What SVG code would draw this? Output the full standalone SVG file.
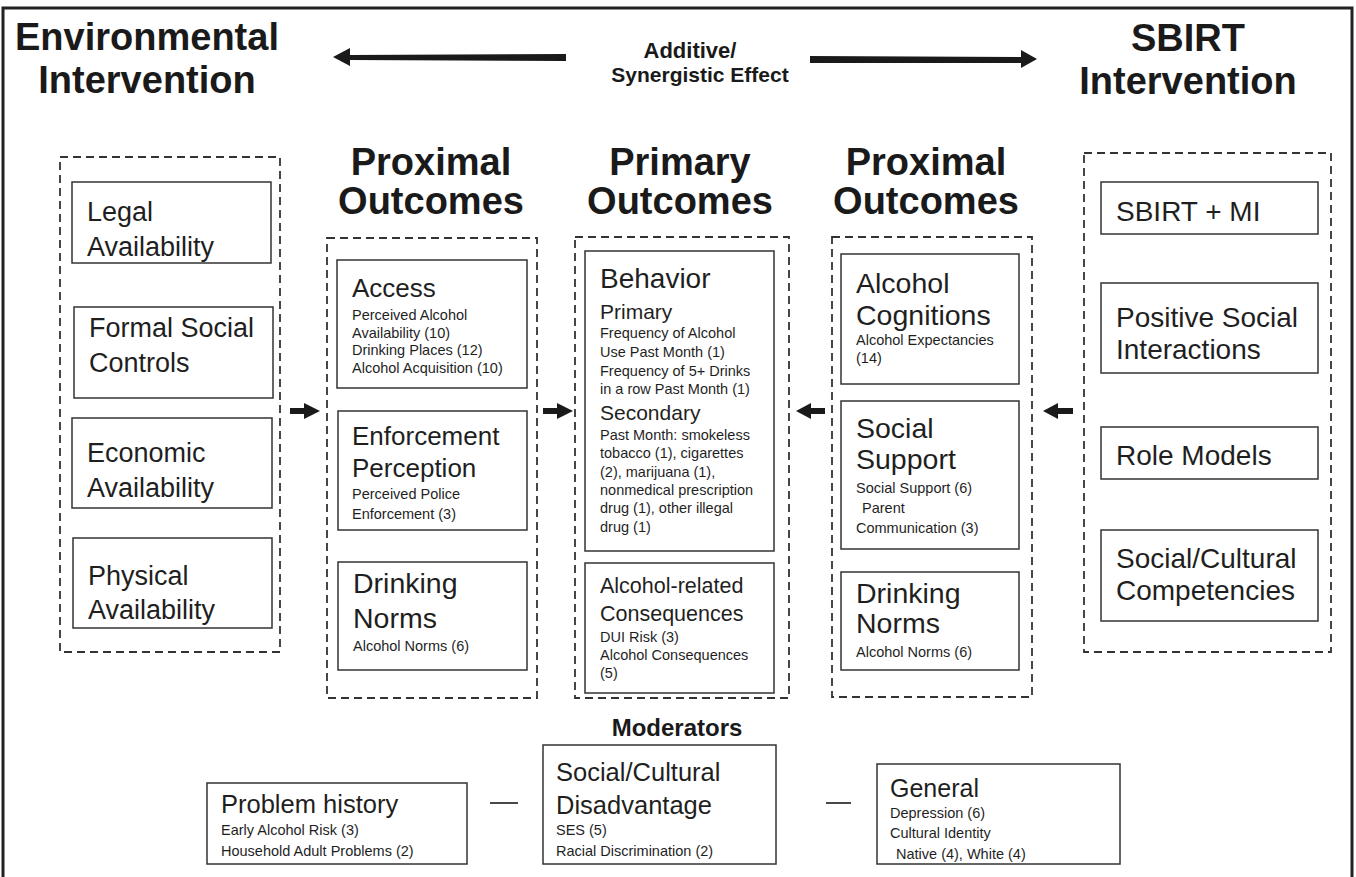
<svg xmlns="http://www.w3.org/2000/svg" width="1356" height="877" viewBox="0 0 1356 877">
<style>
.h{font-family:"Liberation Sans",Arial,sans-serif;font-weight:bold;fill:#1a1a1a}
.t{font-family:"Liberation Sans",Arial,sans-serif;fill:#1f1f1f}
.big{font-size:26px}
.env{font-size:27px}
.sb{font-size:28px}
.s{font-size:14.5px}
.mid{font-size:21px}
.box{fill:#fff;stroke:#333;stroke-width:1.5}
.dash{fill:none;stroke:#333;stroke-width:1.8;stroke-dasharray:8 5}
.arr{fill:#1a1a1a}
.ln{stroke:#1a1a1a;stroke-width:1.6}
</style>
<rect width="1356" height="877" fill="#fff"/>
<path d="M3,877 V8 H1352 V877" fill="none" stroke="#222" stroke-width="3"/>

<g id="titles">
<text class="h" font-size="38" x="147" y="50" text-anchor="middle">Environmental</text>
<text class="h" font-size="38" x="147" y="93" text-anchor="middle">Intervention</text>
<text class="h" font-size="38" x="1188" y="51" text-anchor="middle">SBIRT</text>
<text class="h" font-size="38" x="1188" y="94" text-anchor="middle">Intervention</text>
<text class="h" font-size="22" x="690" y="58" text-anchor="middle">Additive/</text>
<text class="h" font-size="21" x="700" y="82" text-anchor="middle">Synergistic Effect</text>
<text class="h" font-size="38" x="431" y="175" text-anchor="middle">Proximal</text>
<text class="h" font-size="38" x="431" y="214" text-anchor="middle">Outcomes</text>
<text class="h" font-size="38" x="680" y="175" text-anchor="middle">Primary</text>
<text class="h" font-size="38" x="680" y="214" text-anchor="middle">Outcomes</text>
<text class="h" font-size="38" x="926" y="175" text-anchor="middle">Proximal</text>
<text class="h" font-size="38" x="926" y="214" text-anchor="middle">Outcomes</text>
<text class="h" font-size="24" x="677" y="736" text-anchor="middle">Moderators</text>
</g>

<g id="groups">
<rect class="dash" x="60" y="157" width="220" height="495"/>
<rect class="dash" x="327" y="238" width="210" height="460"/>
<rect class="dash" x="575" y="237" width="214" height="461"/>
<rect class="dash" x="832" y="237" width="200" height="460"/>
<rect class="dash" x="1084" y="153" width="247" height="499"/>
</g>

<g id="legal"><rect class="box" x="72" y="182" width="199" height="81"/>
<text class="t env" x="87" y="221">Legal</text><text class="t env" x="87" y="256">Availability</text></g>
<g id="formal"><rect class="box" x="74" y="307" width="199" height="91"/>
<text class="t env" x="89" y="337">Formal Social</text><text class="t env" x="89" y="372">Controls</text></g>
<g id="economic"><rect class="box" x="72" y="418" width="200" height="90"/>
<text class="t env" x="87" y="462">Economic</text><text class="t env" x="87" y="497">Availability</text></g>
<g id="physical"><rect class="box" x="73" y="538" width="199" height="90"/>
<text class="t env" x="88" y="585">Physical</text><text class="t env" x="88" y="619">Availability</text></g>

<g id="access"><rect class="box" x="337" y="260" width="190" height="128"/>
<text class="t big" x="352" y="297">Access</text>
<text class="t s" x="352" y="320">Perceived Alcohol</text>
<text class="t s" x="352" y="338">Availability (10)</text>
<text class="t s" x="352" y="355">Drinking Places (12)</text>
<text class="t s" x="352" y="373">Alcohol Acquisition (10)</text></g>
<g id="enforcement"><rect class="box" x="338" y="411" width="189" height="119"/>
<text class="t big" x="352" y="445">Enforcement</text>
<text class="t big" x="352" y="477">Perception</text>
<text class="t s" x="352" y="499">Perceived Police</text>
<text class="t s" x="352" y="519">Enforcement (3)</text></g>
<g id="norms-left"><rect class="box" x="338" y="562" width="189" height="108"/>
<text class="t" font-size="28.5" x="353" y="593">Drinking</text>
<text class="t" font-size="28.5" x="353" y="628">Norms</text>
<text class="t s" x="353" y="651">Alcohol Norms (6)</text></g>

<g id="behavior"><rect class="box" x="585" y="251" width="189" height="300"/>
<text class="t" font-size="28" x="600" y="288">Behavior</text>
<text class="t mid" x="600" y="319">Primary</text>
<text class="t s" x="600" y="338">Frequency of Alcohol</text>
<text class="t s" x="600" y="357">Use Past Month (1)</text>
<text class="t s" x="600" y="376">Frequency of 5+ Drinks</text>
<text class="t s" x="600" y="394">in a row Past Month (1)</text>
<text class="t mid" x="600" y="420">Secondary</text>
<text class="t s" x="600" y="440">Past Month: smokeless</text>
<text class="t s" x="600" y="458">tobacco (1), cigarettes</text>
<text class="t s" x="600" y="477">(2), marijuana (1),</text>
<text class="t s" x="600" y="495">nonmedical prescription</text>
<text class="t s" x="600" y="513">drug (1), other illegal</text>
<text class="t s" x="600" y="532">drug (1)</text></g>
<g id="consequences"><rect class="box" x="585" y="563" width="189" height="130"/>
<text class="t" font-size="21.5" x="600" y="593">Alcohol-related</text>
<text class="t" font-size="21.5" x="600" y="621">Consequences</text>
<text class="t s" x="600" y="642">DUI Risk (3)</text>
<text class="t s" x="600" y="660">Alcohol Consequences</text>
<text class="t s" x="600" y="678">(5)</text></g>

<g id="cognitions"><rect class="box" x="841" y="254" width="178" height="130"/>
<text class="t" font-size="28.5" x="856" y="293">Alcohol</text>
<text class="t" font-size="28.5" x="856" y="325">Cognitions</text>
<text class="t s" x="856" y="345">Alcohol Expectancies</text>
<text class="t s" x="856" y="363">(14)</text></g>
<g id="support"><rect class="box" x="841" y="401" width="178" height="148"/>
<text class="t" font-size="28.5" x="856" y="438">Social</text>
<text class="t" font-size="28.5" x="856" y="469">Support</text>
<text class="t s" x="856" y="493">Social Support (6)</text>
<text class="t s" x="862" y="513">Parent</text>
<text class="t s" x="856" y="533">Communication (3)</text></g>
<g id="norms-right"><rect class="box" x="841" y="572" width="178" height="98"/>
<text class="t" font-size="28.5" x="856" y="603">Drinking</text>
<text class="t" font-size="28.5" x="856" y="633">Norms</text>
<text class="t s" x="856" y="657">Alcohol Norms (6)</text></g>

<g id="sbirt-mi"><rect class="box" x="1101" y="182" width="217" height="52"/>
<text class="t sb" x="1116" y="221">SBIRT + MI</text></g>
<g id="positive"><rect class="box" x="1101" y="283" width="217" height="90"/>
<text class="t sb" x="1116" y="327">Positive Social</text>
<text class="t sb" x="1116" y="359">Interactions</text></g>
<g id="role"><rect class="box" x="1101" y="427" width="217" height="52"/>
<text class="t sb" x="1116" y="465">Role Models</text></g>
<g id="competencies"><rect class="box" x="1101" y="530" width="217" height="91"/>
<text class="t sb" x="1116" y="568">Social/Cultural</text>
<text class="t sb" x="1116" y="600">Competencies</text></g>

<g id="problem"><rect class="box" x="207" y="783" width="260" height="81"/>
<text class="t" font-size="25.5" x="221" y="813">Problem history</text>
<text class="t s" x="221" y="835">Early Alcohol Risk (3)</text>
<text class="t s" x="221" y="856">Household Adult Problems (2)</text></g>
<g id="disadvantage"><rect class="box" x="543" y="745" width="233" height="119"/>
<text class="t" font-size="25.5" x="556" y="781">Social/Cultural</text>
<text class="t" font-size="25.5" x="556" y="814">Disadvantage</text>
<text class="t s" x="556" y="835">SES (5)</text>
<text class="t s" x="556" y="856">Racial Discrimination (2)</text></g>
<g id="general"><rect class="box" x="877" y="764" width="243" height="100"/>
<text class="t" font-size="25" x="890" y="797">General</text>
<text class="t s" x="890" y="818">Depression (6)</text>
<text class="t s" x="890" y="838">Cultural Identity</text>
<text class="t s" x="896" y="859">Native (4), White (4)</text></g>

<g id="connectors">
<path class="arr" d="M566,54 L350,55 L350,48 L333,57 L350,66 L350,60 L566,61 Z"/>
<path class="arr" d="M810,56 L1021,57 L1021,50 L1037,59 L1021,68 L1021,63 L810,63 Z"/>
<path class="arr" d="M290,408 L304,408 L304,403 L320,411 L304,419 L304,414 L290,414 Z"/>
<path class="arr" d="M543,408 L557,408 L557,403 L573,411 L557,419 L557,414 L543,414 Z"/>
<path class="arr" d="M825,408 L811,408 L811,403 L796,411 L811,419 L811,414 L825,414 Z"/>
<path class="arr" d="M1073,408 L1058,408 L1058,403 L1043,411 L1058,419 L1058,414 L1073,414 Z"/>
<line class="ln" x1="490" y1="803" x2="518" y2="803"/>
<line class="ln" x1="826" y1="803" x2="851" y2="803"/>
</g>
</svg>
